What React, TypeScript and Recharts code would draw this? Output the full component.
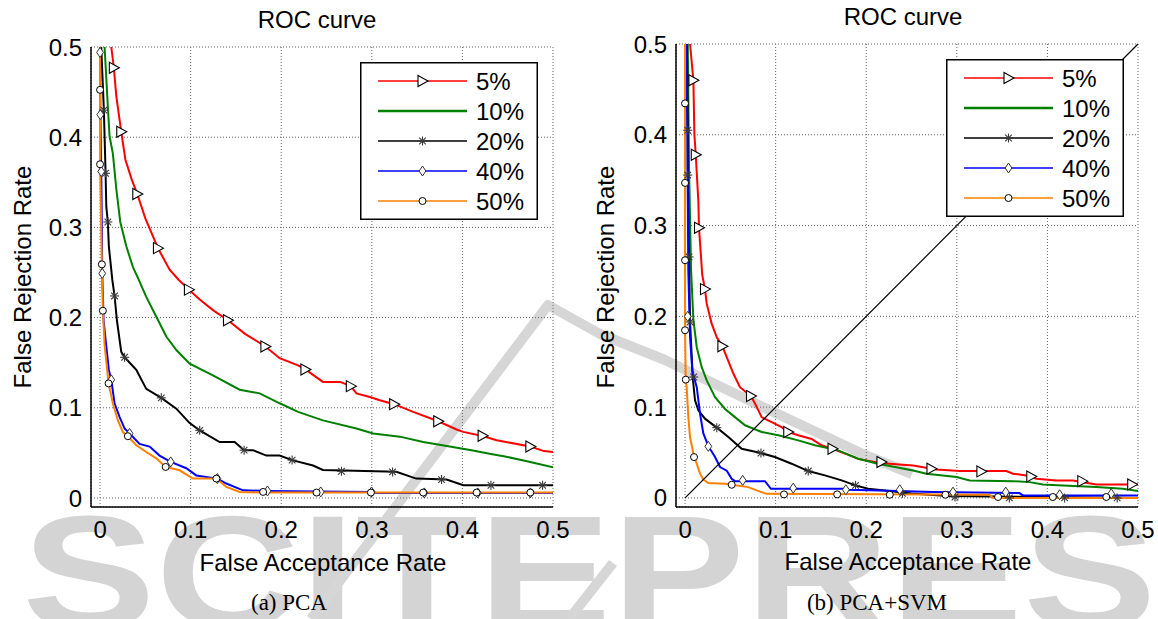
import React from 'react'
import {
  ComposedChart,
  Line,
  Scatter,
  XAxis,
  YAxis,
  CartesianGrid,
  ReferenceLine,
  Legend,
} from 'recharts'

type Pt = [number, number]

const FONT = '"Liberation Sans", Arial, sans-serif'
const SERIF = '"Liberation Serif", "Times New Roman", serif'

const ticks = [0, 0.1, 0.2, 0.3, 0.4, 0.5]
const seriesNames = ['5%', '10%', '20%', '40%', '50%']
const seriesColors = ['#ff0000', '#008000', '#000000', '#0000ff', '#ff8000']
const seriesMarkers = ['triangle', 'none', 'star', 'diamond', 'circle']

// (a) PCA — curves [FAR, FRR]
const pca5: Pt[] = [
  [0.0124, 0.5], [0.0152, 0.477], [0.018, 0.445], [0.0234, 0.406], [0.028, 0.375], [0.035, 0.353],
  [0.0411, 0.337], [0.05, 0.31], [0.0639, 0.277], [0.0768, 0.253], [0.0867, 0.242], [0.0981, 0.231],
  [0.11, 0.22], [0.125, 0.208], [0.1412, 0.197], [0.16, 0.182], [0.1825, 0.168], [0.1983, 0.155],
  [0.2186, 0.147], [0.2267, 0.1425], [0.246, 0.1287], [0.265, 0.1287], [0.2768, 0.124], [0.283, 0.116],
  [0.2978, 0.112], [0.3088, 0.1084], [0.3247, 0.104], [0.3456, 0.0955], [0.3733, 0.0851], [0.3935, 0.0759],
  [0.4009, 0.0733], [0.4223, 0.0688], [0.4378, 0.064], [0.475, 0.057], [0.49, 0.052], [0.5, 0.051],
]
const pca10: Pt[] = [
  [0.005, 0.5], [0.0086, 0.434], [0.0105, 0.401], [0.0141, 0.382], [0.018, 0.342], [0.0223, 0.306],
  [0.029, 0.279], [0.0363, 0.256], [0.0418, 0.244], [0.051, 0.223], [0.0621, 0.201], [0.0731, 0.179],
  [0.0842, 0.164], [0.0989, 0.149], [0.1246, 0.136], [0.1541, 0.12], [0.1762, 0.116], [0.1983, 0.105],
  [0.2186, 0.0955], [0.246, 0.086], [0.283, 0.077], [0.3014, 0.0715], [0.331, 0.068], [0.3567, 0.062],
  [0.386, 0.057], [0.41, 0.053], [0.43, 0.049], [0.447, 0.046], [0.47, 0.041], [0.5, 0.034],
]
const pca20: Pt[] = [
  [0.0013, 0.5], [0.0042, 0.43], [0.0061, 0.36], [0.0069, 0.323], [0.0086, 0.306], [0.0097, 0.279],
  [0.0135, 0.242], [0.016, 0.224], [0.0186, 0.197], [0.0234, 0.162], [0.0271, 0.156], [0.04, 0.142],
  [0.051, 0.121], [0.0676, 0.111], [0.0842, 0.099], [0.0989, 0.083], [0.11, 0.075], [0.132, 0.062],
  [0.1486, 0.062], [0.159, 0.053], [0.1688, 0.053], [0.1836, 0.047], [0.1983, 0.047], [0.212, 0.042],
  [0.2351, 0.036], [0.246, 0.031], [0.327, 0.029], [0.349, 0.0215], [0.3825, 0.0204], [0.401, 0.0141],
  [0.5, 0.0141],
]
const pca40: Pt[] = [
  [0.0, 0.5], [0.0003, 0.43], [0.0013, 0.362], [0.002, 0.3], [0.0024, 0.249], [0.003, 0.23],
  [0.0039, 0.197], [0.0069, 0.168], [0.0097, 0.142], [0.0124, 0.131], [0.016, 0.105], [0.0215, 0.09],
  [0.0271, 0.077], [0.0326, 0.0715], [0.0436, 0.06], [0.0547, 0.057], [0.0657, 0.047], [0.078, 0.04],
  [0.0952, 0.033], [0.1063, 0.025], [0.1295, 0.0215], [0.1394, 0.016], [0.1578, 0.0085], [0.1848, 0.0078],
  [0.3, 0.0067], [0.305, 0.0056], [0.5, 0.0056],
]
const pca50: Pt[] = [
  [0.0, 0.5], [0.0, 0.4525], [0.0, 0.37], [0.002, 0.259], [0.0031, 0.2076], [0.005, 0.17],
  [0.0094, 0.127], [0.0141, 0.105], [0.0197, 0.086], [0.0252, 0.073], [0.0307, 0.0685], [0.04, 0.0585],
  [0.051, 0.051], [0.0621, 0.044], [0.0724, 0.0344], [0.0878, 0.0307], [0.1025, 0.0215], [0.1284, 0.0215],
  [0.1394, 0.0122], [0.1541, 0.0067], [0.18, 0.006], [0.5, 0.006],
]

// (a) PCA — marker positions
const pca5Marks: Pt[] = [
  [0.0152, 0.477], [0.0234, 0.406], [0.0411, 0.337], [0.0639, 0.277], [0.0981, 0.231], [0.1412, 0.197],
  [0.1825, 0.168], [0.2267, 0.1425], [0.2768, 0.124], [0.3247, 0.104], [0.3733, 0.085], [0.4223, 0.069],
  [0.475, 0.057],
]
const pca20Marks: Pt[] = [
  [0.0042, 0.43], [0.0061, 0.36], [0.0086, 0.306], [0.016, 0.224], [0.0271, 0.156], [0.0676, 0.111],
  [0.11, 0.075], [0.159, 0.053], [0.212, 0.042], [0.2665, 0.0296], [0.3229, 0.0289], [0.377, 0.0204],
  [0.4315, 0.0141], [0.4885, 0.0141],
]
const pca40Marks: Pt[] = [
  [0.0, 0.494], [0.0003, 0.425], [0.0013, 0.362], [0.0024, 0.249], [0.0124, 0.131], [0.0326, 0.0715],
  [0.078, 0.04], [0.1295, 0.0215], [0.1848, 0.0078], [0.2436, 0.0067], [0.2997, 0.0067], [0.358, 0.0056],
  [0.417, 0.0056], [0.475, 0.0056],
]
const pca50Marks: Pt[] = [
  [0.0, 0.4525], [0.0, 0.37], [0.002, 0.259], [0.0031, 0.2076], [0.0094, 0.127], [0.0307, 0.0685],
  [0.0724, 0.0344], [0.1284, 0.0215], [0.18, 0.0067], [0.239, 0.006], [0.299, 0.006], [0.3567, 0.006],
  [0.4157, 0.006], [0.475, 0.006],
]

// (b) PCA+SVM — curves
const svm5: Pt[] = [
  [0.0055, 0.5], [0.0092, 0.46], [0.0103, 0.4], [0.0118, 0.378], [0.0147, 0.326], [0.0154, 0.2975],
  [0.019, 0.2453], [0.022, 0.23], [0.0239, 0.214], [0.0294, 0.192], [0.035, 0.177], [0.0412, 0.167],
  [0.046, 0.155], [0.0533, 0.137], [0.0606, 0.122], [0.0728, 0.112], [0.0772, 0.104], [0.0845, 0.089],
  [0.0956, 0.0836], [0.1066, 0.078], [0.1139, 0.0726], [0.1249, 0.069], [0.1397, 0.065], [0.1507, 0.058],
  [0.1628, 0.054], [0.1764, 0.049], [0.1911, 0.043], [0.215, 0.0385], [0.2517, 0.0358], [0.2775, 0.0314],
  [0.3032, 0.0296], [0.3547, 0.0296], [0.362, 0.0267], [0.3767, 0.0248], [0.3878, 0.0212], [0.4098, 0.0193],
  [0.4282, 0.0193], [0.4539, 0.0149], [0.5, 0.0149],
]
const svm10: Pt[] = [
  [0.003, 0.5], [0.0044, 0.363], [0.0066, 0.252], [0.0092, 0.196], [0.0129, 0.166], [0.0184, 0.144],
  [0.0239, 0.1295], [0.0331, 0.111], [0.0441, 0.098], [0.0551, 0.089], [0.0662, 0.08], [0.0845, 0.0726],
  [0.1029, 0.069], [0.1249, 0.0634], [0.1433, 0.058], [0.169, 0.0524], [0.1911, 0.0432], [0.2131, 0.0377],
  [0.2517, 0.0303], [0.2665, 0.0267], [0.2996, 0.023], [0.3142, 0.0193], [0.362, 0.0185], [0.3804, 0.0174],
  [0.395, 0.0149], [0.4171, 0.0138], [0.4539, 0.0119], [0.4832, 0.0101], [0.5, 0.0075],
]
const svm20: Pt[] = [
  [0.002, 0.5], [0.003, 0.405], [0.003, 0.356], [0.0044, 0.2655], [0.0055, 0.194], [0.0085, 0.133],
  [0.0095, 0.122], [0.011, 0.1075], [0.0147, 0.0965], [0.022, 0.0873], [0.035, 0.0774], [0.0478, 0.067],
  [0.0625, 0.0542], [0.0838, 0.0494], [0.0992, 0.045], [0.1176, 0.0377], [0.136, 0.0296], [0.1544, 0.0248],
  [0.1728, 0.0193], [0.188, 0.0138], [0.2021, 0.0101], [0.2205, 0.0083], [0.25, 0.005], [0.29, 0.002],
  [0.5, 0.0],
]
const svm40: Pt[] = [
  [0.0015, 0.5], [0.0025, 0.4], [0.0036, 0.25], [0.0055, 0.177], [0.008, 0.14], [0.0129, 0.122],
  [0.0165, 0.093], [0.0202, 0.071], [0.0257, 0.057], [0.0331, 0.045], [0.0386, 0.034], [0.046, 0.03],
  [0.0515, 0.021], [0.0551, 0.0185], [0.0882, 0.0185], [0.0948, 0.0101], [0.1764, 0.0101], [0.18, 0.009],
  [0.215, 0.0083], [0.2738, 0.0064], [0.369, 0.0053], [0.373, 0.0028], [0.5, 0.0028],
]
const svm50: Pt[] = [
  [0.0, 0.5], [0.0, 0.4346], [0.0, 0.347], [0.0, 0.2618], [0.0, 0.1847], [0.0008, 0.13],
  [0.0018, 0.122], [0.0036, 0.089], [0.0055, 0.067], [0.0099, 0.045], [0.0129, 0.0377], [0.0165, 0.0267],
  [0.0202, 0.0201], [0.0257, 0.0163], [0.0441, 0.0157], [0.0515, 0.0145], [0.0698, 0.0119], [0.079, 0.0083],
  [0.09, 0.0045], [0.336, 0.0035], [0.34, 0.0], [0.5, 0.0],
]

// (b) PCA+SVM — marker positions
const svm5Marks: Pt[] = [
  [0.0092, 0.46], [0.0118, 0.378], [0.0154, 0.2975], [0.022, 0.23], [0.0412, 0.167], [0.0728, 0.1122],
  [0.1139, 0.0726], [0.1628, 0.0542], [0.2168, 0.0395], [0.272, 0.0322], [0.3271, 0.0292], [0.3822, 0.0237],
  [0.4385, 0.0185], [0.4936, 0.0149],
]
const svm20Marks: Pt[] = [
  [0.003, 0.405], [0.003, 0.3556], [0.0044, 0.2655], [0.0055, 0.1938], [0.0095, 0.1332], [0.035, 0.0774],
  [0.0838, 0.0494], [0.136, 0.0296], [0.1882, 0.0138], [0.24, 0.005], [0.298, 0.001], [0.358, 0.0],
  [0.419, 0.0], [0.477, 0.0],
]
const svm40Marks: Pt[] = [
  [0.0029, 0.2], [0.0257, 0.0568], [0.0636, 0.0193], [0.1194, 0.0108], [0.1775, 0.009], [0.237, 0.009],
  [0.2958, 0.0064], [0.354, 0.0064], [0.4135, 0.0035], [0.4704, 0.0046],
]
const svm50Marks: Pt[] = [
  [0.0, 0.4346], [0.0, 0.347], [0.0, 0.2618], [0.0, 0.1847], [0.0008, 0.1303], [0.0099, 0.045],
  [0.0515, 0.0145], [0.1092, 0.0039], [0.1679, 0.0039], [0.226, 0.0035], [0.2874, 0.0035], [0.3455, 0.001],
  [0.406, 0.001], [0.465, 0.001],
]

const toRows = (pts: Pt[]) => pts.map(([x, y]) => ({ x, y }))
const fmt = (v: number) => (v === 0 ? '0' : String(v))

function Marker({ kind, cx, cy }: { kind: string; cx: number; cy: number }) {
  if (kind === 'triangle')
    return (
      <polygon
        points={`${cx - 4.5},${cy - 5.5} ${cx + 5.5},${cy} ${cx - 4.5},${cy + 5.5}`}
        fill="#fff"
        stroke="#000"
        strokeWidth={1.1}
      />
    )
  if (kind === 'diamond')
    return (
      <polygon
        points={`${cx},${cy - 5} ${cx + 3.4},${cy} ${cx},${cy + 5} ${cx - 3.4},${cy}`}
        fill="#fff"
        stroke="#333"
        strokeWidth={1}
      />
    )
  if (kind === 'circle') return <circle cx={cx} cy={cy} r={3.5} fill="#fff" stroke="#000" strokeWidth={1} />
  if (kind === 'star')
    return (
      <g stroke="#3a3a3a" strokeWidth={1.1}>
        <line x1={cx - 4.5} y1={cy} x2={cx + 4.5} y2={cy} />
        <line x1={cx} y1={cy - 4.5} x2={cx} y2={cy + 4.5} />
        <line x1={cx - 3.3} y1={cy - 3.3} x2={cx + 3.3} y2={cy + 3.3} />
        <line x1={cx - 3.3} y1={cy + 3.3} x2={cx + 3.3} y2={cy - 3.3} />
      </g>
    )
  return null
}

function LegendBox() {
  return (
    <svg width={178} height={158} style={{ display: 'block' }}>
      <rect x={0.75} y={0.75} width={176.5} height={156.5} fill="#fff" stroke="#000" strokeWidth={1.5} />
      {seriesNames.map((name, i) => {
        const y = 19 + i * 30
        return (
          <g key={name}>
            <line x1={18} y1={y} x2={107} y2={y} stroke={seriesColors[i]} strokeWidth={i === 1 ? 2.5 : 1.5} />
            <Marker kind={seriesMarkers[i]} cx={62.5} cy={y} />
            <text x={116} y={y + 8.5} fontSize={24} fontFamily={FONT} fill="#000">
              {name}
            </text>
          </g>
        )
      })}
    </svg>
  )
}

type PanelProps = {
  curves: Pt[][]
  marks: (Pt[] | null)[]
  width: number
  yAxisWidth: number
  top: number
  right: number
  legendLeft: number
  legendTop: number
  diagonal?: boolean
}

function RocPanel({ curves, marks, width, yAxisWidth, top, right, legendLeft, legendTop, diagonal }: PanelProps) {
  const tickStyle = { fontSize: 24, fill: '#000', fontFamily: FONT }
  return (
    <ComposedChart width={width} height={619} margin={{ top, right, bottom: 0, left: 0 }}>
      <CartesianGrid stroke="#666" strokeDasharray="1 2" />
      <XAxis
        type="number"
        dataKey="x"
        domain={[-0.01, 0.5]}
        ticks={ticks}
        interval={0}
        allowDataOverflow
        height={112}
        tick={tickStyle}
        tickLine={false}
        tickMargin={8}
        tickFormatter={fmt}
        axisLine={{ stroke: '#000', strokeWidth: 1.5 }}
      />
      <YAxis
        type="number"
        dataKey="y"
        domain={[-0.01, 0.5]}
        ticks={ticks}
        interval={0}
        allowDataOverflow
        width={yAxisWidth}
        tick={tickStyle}
        tickLine={false}
        tickMargin={3}
        tickFormatter={fmt}
        axisLine={{ stroke: '#000', strokeWidth: 1.5 }}
      />
      {seriesNames.map((name, i) => (
        <React.Fragment key={name}>
          <Line
            data={toRows(curves[i])}
            dataKey="y"
            name={name}
            type="linear"
            stroke={seriesColors[i]}
            strokeWidth={2}
            dot={false}
            activeDot={false}
            isAnimationActive={false}
          />
          {marks[i] && (
            <Scatter
              data={toRows(marks[i] as Pt[])}
              dataKey="y"
              legendType="none"
              isAnimationActive={false}
              shape={(p: any) => <Marker kind={seriesMarkers[i]} cx={p.cx} cy={p.cy} />}
            />
          )}
        </React.Fragment>
      ))}
      {diagonal && (
        <ReferenceLine
          segment={[{ x: 0, y: 0 }, { x: 0.5, y: 0.5 }]}
          stroke="#000"
          strokeWidth={1.2}
          ifOverflow="visible"
        />
      )}
      <Legend
        layout="vertical"
        align="center"
        verticalAlign="middle"
        wrapperStyle={{ left: legendLeft, top: legendTop, width: 178, height: 158 }}
        content={() => <LegendBox />}
      />
    </ComposedChart>
  )
}

export default function App() {
  return (
    <div style={{ position: 'relative', width: 1158, height: 619, overflow: 'hidden', background: '#fff' }}>
      <style>{'body{margin:0}'}</style>
      {/* publisher watermark behind the plots */}
      <svg width={1158} height={619} style={{ position: 'absolute', left: 0, top: 0 }}>
        <text
          x={22}
          y={628}
          fontSize={162}
          fontWeight={700}
          fill="#d4d4d4"
          fontFamily={FONT}
          textLength={1268}
          lengthAdjust="spacingAndGlyphs"
        >
          SCITEPRESS
        </text>
        <g fill="none" stroke="#d6d6d6" strokeWidth={10} strokeLinejoin="round">
          <polyline points="311,619 548,305 600,334 665,360 765,408 865,455 912,474" />
          <line x1={613} y1={563} x2={569} y2={619} />
        </g>
      </svg>
      <div style={{ position: 'absolute', left: 0, top: 0 }}>
        <RocPanel
          curves={[pca5, pca10, pca20, pca40, pca50]}
          marks={[pca5Marks, null, pca20Marks, pca40Marks, pca50Marks]}
          width={580}
          yAxisWidth={91}
          top={47}
          right={27}
          legendLeft={360}
          legendTop={62}
        />
      </div>
      <div style={{ position: 'absolute', left: 580, top: 0 }}>
        <RocPanel
          curves={[svm5, svm10, svm20, svm40, svm50]}
          marks={[svm5Marks, null, svm20Marks, svm40Marks, svm50Marks]}
          width={578}
          yAxisWidth={96}
          top={44}
          right={20}
          legendLeft={366}
          legendTop={59}
          diagonal
        />
      </div>
      <svg width={1158} height={619} style={{ position: 'absolute', left: 0, top: 0, pointerEvents: 'none' }}>
        <g fontFamily={FONT} fontSize={24} fill="#000" textAnchor="middle">
          <text x={317} y={28}>ROC curve</text>
          <text x={903} y={25}>ROC curve</text>
          <text x={323} y={571}>False Acceptance Rate</text>
          <text x={908} y={570}>False Acceptance Rate</text>
          <text transform="translate(31,277) rotate(-90)">False Rejection Rate</text>
          <text transform="translate(614,277) rotate(-90)">False Rejection Rate</text>
        </g>
        <g fontFamily={SERIF} fontSize={23} fill="#000" textAnchor="middle">
          <text x={289} y={610}>(a) PCA</text>
          <text x={877} y={610}>(b) PCA+SVM</text>
        </g>
      </svg>
    </div>
  )
}
